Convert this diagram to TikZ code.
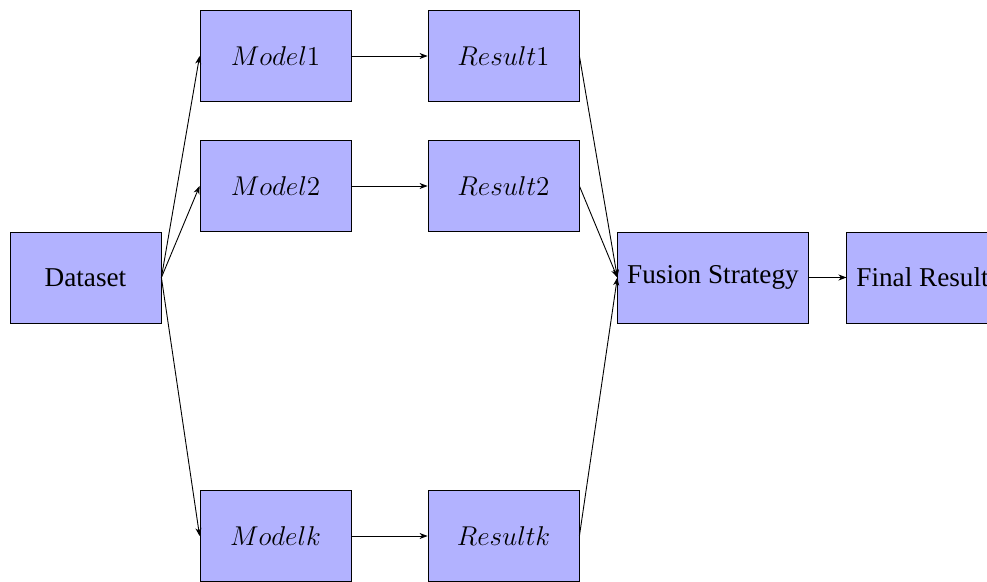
\RequirePackage{fix-cm}
\documentclass[tikz,border=0pt]{standalone}
\usepackage{fontspec}
\setmainfont{Liberation Serif}
\usetikzlibrary{arrows.meta}
\begin{document}
\begin{tikzpicture}[x=0.5pt,y=-0.5pt,
  blockbox/.style={draw, fill=blue!30, minimum width=75.5pt, minimum height=45.5pt,
    inner sep=4.75pt, font=\fontsize{13.6}{16}\selectfont},
  flow/.style={-{Stealth[length=4pt,width=3pt,inset=1.2pt]}, line width=0.45pt}]
  \useasboundingbox (0,0) rectangle (987,582);
  \clip (0,0) rectangle (987,582);

  % input data
  \node[blockbox] (data) at (85.5,277.5) {Dataset};

  % individual models
  \node[blockbox] (m1) at (275.5,56) {$Model1$};
  \node[blockbox] (m2) at (275.5,186) {$Model2$};
  \node[blockbox] (mk) at (275.5,536) {$Modelk$};

  % their outputs
  \node[blockbox] (r1) at (503.5,56) {$Result1$};
  \node[blockbox] (r2) at (503.5,186) {$Result2$};
  \node[blockbox] (rk) at (503.5,536) {$Resultk$};

  % combination stage
  \node[blockbox] (fuse) at (713,277.5) {Fusion Strategy};
  \node[blockbox] (final) at (922.5,277.5) {Final Result};

  \foreach \i in {1,2,k} {
    \draw[flow] (data.east) -- (m\i.west);
    \draw[flow] (m\i.east) -- (r\i.west);
    \draw[flow] (r\i.east) -- (fuse.west);
  }
  \draw[flow] (fuse.east) -- (final.west);
\end{tikzpicture}
\end{document}
